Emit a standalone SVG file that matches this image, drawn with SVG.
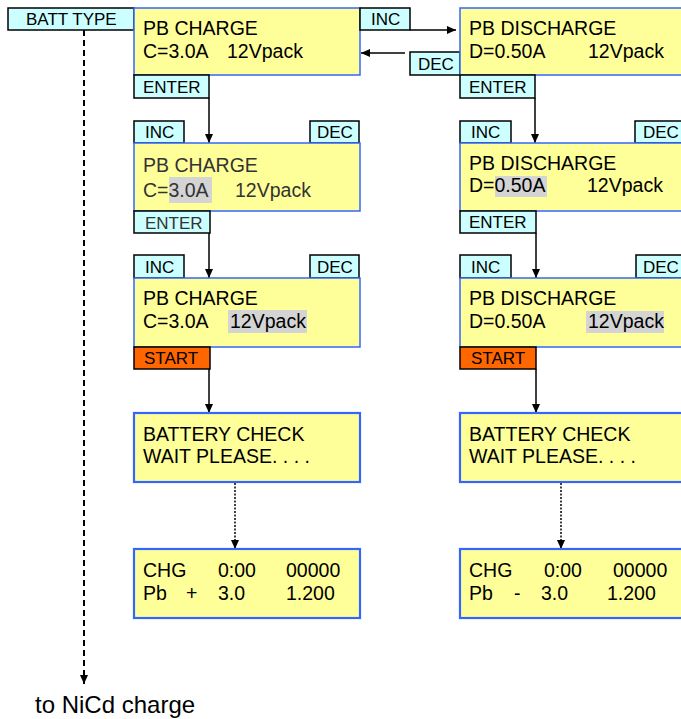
<svg xmlns="http://www.w3.org/2000/svg" width="681" height="719" viewBox="0 0 681 719">
<style>
text{font-family:"Liberation Sans",Arial,sans-serif;fill:#000}
.lcd{fill:#FFFF99;stroke:#3366FF;stroke-width:1.5}
.lcd2{fill:#FFFF99;stroke:#3366FF;stroke-width:2.2}
.tag{fill:#CCFFFF;stroke:#000;stroke-width:1.5}
.start{fill:#FF6600;stroke:#000;stroke-width:1.5}
.hl{fill:#D4D4D4}
.t{font-size:19.5px}
.lt{fill:#333}
.k{font-size:17px}
.ln{stroke:#000;stroke-width:1.5;fill:none}
</style>
<defs>
<marker id="ah" markerWidth="10" markerHeight="10" refX="9" refY="5" orient="auto" markerUnits="userSpaceOnUse">
<path d="M0,1 L9,5 L0,9 Z" fill="#000"/>
</marker>
</defs>

<g id="connectors">
<line class="ln" x1="410" y1="30" x2="456" y2="30" marker-end="url(#ah)"/>
<line class="ln" x1="405" y1="53" x2="361" y2="53" marker-end="url(#ah)"/>
<line class="ln" x1="209" y1="98" x2="209" y2="143" marker-end="url(#ah)"/>
<line class="ln" x1="535" y1="98" x2="535" y2="143" marker-end="url(#ah)"/>
<line class="ln" x1="209" y1="233" x2="209" y2="278" marker-end="url(#ah)"/>
<line class="ln" x1="536" y1="233" x2="536" y2="278" marker-end="url(#ah)"/>
<line class="ln" x1="209" y1="369" x2="209" y2="413" marker-end="url(#ah)"/>
<line class="ln" x1="536" y1="369" x2="536" y2="413" marker-end="url(#ah)"/>
<line class="ln" x1="235" y1="483" x2="235" y2="549" stroke-dasharray="2 1.5" marker-end="url(#ah)"/>
<line class="ln" x1="561" y1="483" x2="561" y2="549" stroke-dasharray="2 1.5" marker-end="url(#ah)"/>
<line x1="84" y1="30" x2="84" y2="684" stroke="#000" stroke-width="2" stroke-dasharray="6 4" marker-end="url(#ah)"/>
</g>

<g id="batt-type">
<rect class="tag" x="8" y="8" width="126" height="22"/>
<text class="k" x="26" y="25">BATT TYPE</text>
</g>

<g id="pb-charge-1">
<rect class="lcd" x="134" y="8" width="226" height="67"/>
<text class="t" x="143" y="35">PB CHARGE</text>
<text class="t" x="143" y="58">C=3.0A</text>
<text class="t" x="227" y="58">12Vpack</text>
<rect class="tag" x="134" y="75" width="75" height="23"/>
<text class="k" x="143" y="93">ENTER</text>
<rect class="tag" x="360" y="8" width="50" height="22"/>
<text class="k" x="371" y="25">INC</text>
</g>

<g id="pb-discharge-1">
<rect class="tag" x="410" y="52" width="50" height="23"/>
<text class="k" x="418" y="70">DEC</text>
<rect class="lcd" x="460" y="8" width="240" height="67"/>
<text class="t" x="469" y="35">PB DISCHARGE</text>
<text class="t" x="469" y="58">D=0.50A</text>
<text class="t" x="588" y="58">12Vpack</text>
<rect class="tag" x="460" y="75" width="75" height="23"/>
<text class="k" x="469" y="93">ENTER</text>
</g>

<g id="pb-charge-2">
<rect class="tag" x="134" y="121" width="50" height="22"/>
<text class="k" x="145" y="138">INC</text>
<rect class="tag" x="310" y="121" width="49" height="22"/>
<text class="k" x="317" y="138">DEC</text>
<rect class="lcd" x="134" y="143" width="226" height="68"/>
<rect class="hl" x="169" y="177" width="43" height="26"/>
<text class="t lt" x="143" y="172">PB CHARGE</text>
<text class="t lt" x="143" y="197">C=3.0A</text>
<text class="t lt" x="235" y="197">12Vpack</text>
<rect class="tag" x="134" y="211" width="76" height="22"/>
<text class="k lt" x="145" y="229">ENTER</text>
</g>

<g id="pb-discharge-2">
<rect class="tag" x="460" y="121" width="51" height="22"/>
<text class="k" x="471" y="138">INC</text>
<rect class="tag" x="635" y="121" width="60" height="22"/>
<text class="k" x="643" y="138">DEC</text>
<rect class="lcd" x="460" y="143" width="240" height="68"/>
<rect class="hl" x="495" y="176" width="52" height="21"/>
<text class="t" x="469" y="170">PB DISCHARGE</text>
<text class="t" x="469" y="192">D=0.50A</text>
<text class="t" x="587" y="192">12Vpack</text>
<rect class="tag" x="460" y="211" width="76" height="22"/>
<text class="k" x="469" y="228">ENTER</text>
</g>

<g id="pb-charge-3">
<rect class="tag" x="134" y="255" width="50" height="23"/>
<text class="k" x="145" y="273">INC</text>
<rect class="tag" x="310" y="255" width="49" height="23"/>
<text class="k" x="317" y="273">DEC</text>
<rect class="lcd" x="134" y="278" width="226" height="69"/>
<rect class="hl" x="228" y="310" width="79" height="23"/>
<text class="t" x="143" y="305">PB CHARGE</text>
<text class="t" x="143" y="328">C=3.0A</text>
<text class="t" x="230" y="328">12Vpack</text>
<rect class="start" x="134" y="347" width="76" height="22"/>
<text class="k" x="144" y="364">START</text>
</g>

<g id="pb-discharge-3">
<rect class="tag" x="460" y="255" width="51" height="23"/>
<text class="k" x="471" y="273">INC</text>
<rect class="tag" x="636" y="255" width="60" height="23"/>
<text class="k" x="643" y="273">DEC</text>
<rect class="lcd" x="460" y="278" width="240" height="69"/>
<rect class="hl" x="586" y="311" width="78" height="22"/>
<text class="t" x="469" y="305">PB DISCHARGE</text>
<text class="t" x="469" y="328">D=0.50A</text>
<text class="t" x="588" y="328">12Vpack</text>
<rect class="start" x="460" y="347" width="76" height="22"/>
<text class="k" x="471" y="364">START</text>
</g>

<g id="battery-check-1">
<rect class="lcd2" x="134" y="413" width="226" height="69"/>
<text class="t" x="143" y="441">BATTERY CHECK</text>
<text class="t" x="143" y="463">WAIT PLEASE. . . .</text>
</g>

<g id="battery-check-2">
<rect class="lcd2" x="460" y="413" width="240" height="69"/>
<text class="t" x="469" y="441">BATTERY CHECK</text>
<text class="t" x="469" y="463">WAIT PLEASE. . . .</text>
</g>

<g id="chg-display-1">
<rect class="lcd2" x="134" y="549" width="226" height="69"/>
<text class="t" x="143" y="577">CHG</text>
<text class="t" x="218" y="577">0:00</text>
<text class="t" x="286" y="577">00000</text>
<text class="t" x="143" y="600">Pb</text>
<text class="t" x="186" y="600">+</text>
<text class="t" x="218" y="600">3.0</text>
<text class="t" x="286" y="600">1.200</text>
</g>

<g id="chg-display-2">
<rect class="lcd2" x="460" y="549" width="240" height="69"/>
<text class="t" x="469" y="577">CHG</text>
<text class="t" x="544" y="577">0:00</text>
<text class="t" x="613" y="577">00000</text>
<text class="t" x="469" y="600">Pb</text>
<text class="t" x="514" y="600">-</text>
<text class="t" x="541" y="600">3.0</text>
<text class="t" x="607" y="600">1.200</text>
</g>

<g id="to-nicd">
<text x="35" y="713" font-size="24">to NiCd charge</text>
</g>
</svg>
